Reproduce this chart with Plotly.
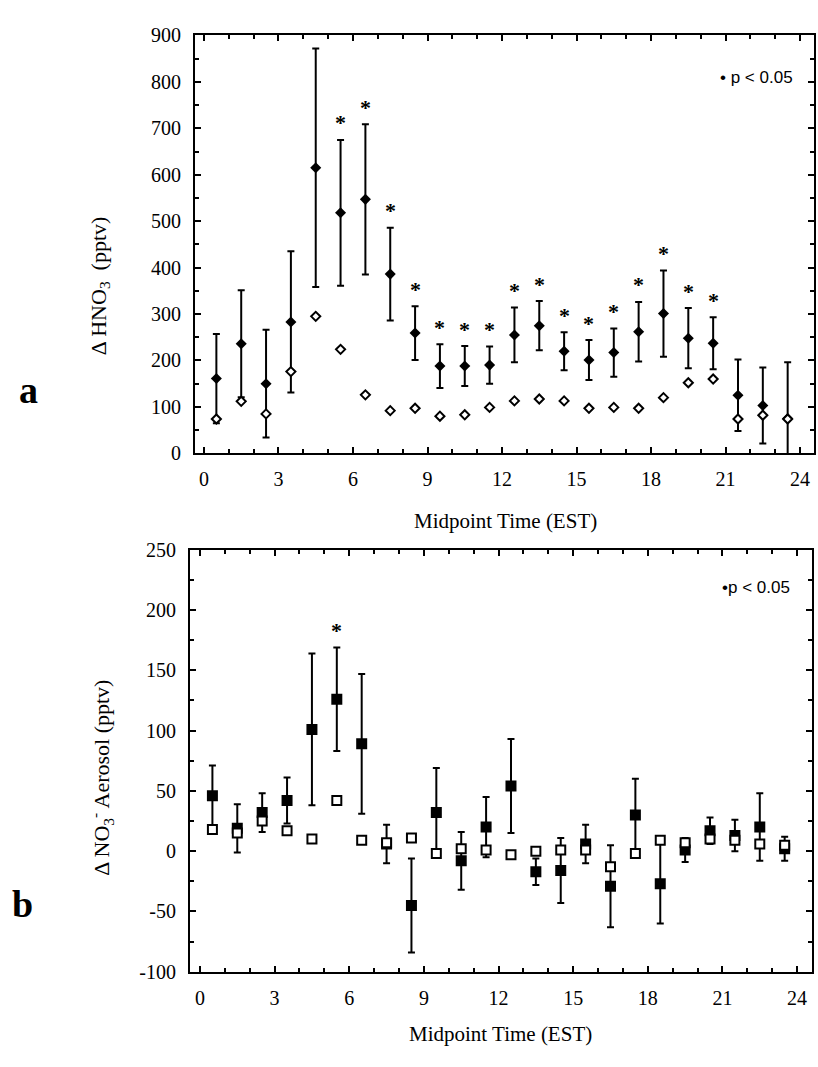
import plotly.graph_objects as go

# Hourly bins (midpoint time, EST)
hours = [h + 0.5 for h in range(24)]
hour_ticks = [0, 3, 6, 9, 12, 15, 18, 21, 24]

# Panel a: delta HNO3 (pptv)
hno3_mean = [161, 236, 150, 283, 615, 518, 547, 386, 259, 188, 188, 190,
             255, 275, 220, 201, 217, 262, 301, 248, 237, 125, 103, 75]
hno3_err = [96, 115, 116, 152, 257, 157, 162, 100, 58, 47, 43, 40,
            59, 53, 41, 43, 52, 64, 93, 65, 56, 77, 82, 121]
hno3_ref = [74, 112, 85, 176, 295, 224, 126, 92, 97, 80, 83, 99,
            113, 117, 113, 97, 99, 97, 120, 152, 160, 74, 82, 74]
hno3_sig = [False] * 5 + [True] * 16 + [False] * 3
hno3_ticks = [0, 100, 200, 300, 400, 500, 600, 700, 800, 900]

# Panel b: delta NO3- aerosol (pptv)
no3_mean = [46, 19, 32, 42, 101, 126, 89, 6, -45, 32, -8, 20,
            54, -17, -16, 6, -29, 30, -27, 1, 17, 13, 20, 2]
no3_err = [25, 20, 16, 19, 63, 43, 58, 16, 39, 37, 24, 25,
           39, 11, 27, 16, 34, 30, 33, 10, 11, 13, 28, 10]
no3_ref = [18, 15, 25, 17, 10, 42, 9, 7, 11, -2, 2, 1,
           -3, 0, 1, 1, -13, -2, 9, 7, 10, 9, 6, 5]
no3_sig = [i == 5 for i in range(24)]
no3_ticks = [-100, -50, 0, 50, 100, 150, 200, 250]

SERIF = "Liberation Serif, Times New Roman, serif"
NARROW = "Liberation Sans Narrow, Liberation Sans, sans-serif"
BLACK = "black"

fig = go.Figure()

# --- panel a ---
fig.add_trace(go.Scatter(
    x=hours, y=hno3_mean, mode="markers", xaxis="x", yaxis="y",
    marker=dict(symbol="diamond", size=8.5, color=BLACK),
    error_y=dict(type="data", array=hno3_err, symmetric=True,
                 color=BLACK, thickness=2, width=3.5),
    showlegend=False,
))
fig.add_trace(go.Scatter(
    x=hours, y=hno3_ref, mode="markers", xaxis="x", yaxis="y",
    marker=dict(symbol="diamond", size=7, color="white",
                line=dict(color=BLACK, width=2)),
    showlegend=False,
))

# --- panel b ---
fig.add_trace(go.Scatter(
    x=hours, y=no3_mean, mode="markers", xaxis="x2", yaxis="y2",
    marker=dict(symbol="square", size=11, color=BLACK),
    error_y=dict(type="data", array=no3_err, symmetric=True,
                 color=BLACK, thickness=2, width=3.5),
    showlegend=False,
))
fig.add_trace(go.Scatter(
    x=hours, y=no3_ref, mode="markers", xaxis="x2", yaxis="y2",
    marker=dict(symbol="square", size=9, color="white",
                line=dict(color=BLACK, width=2)),
    showlegend=False,
))

annotations = []

# significance asterisks above the upper error bar
for xs, m, e, s, xr, yr in ((hours, hno3_mean, hno3_err, hno3_sig, "x", "y"),
                            (hours, no3_mean, no3_err, no3_sig, "x2", "y2")):
    for xv, mv, ev, sv in zip(xs, m, e, s):
        if sv:
            annotations.append(dict(
                x=xv, y=mv + ev, xref=xr, yref=yr, text="<b>*</b>",
                showarrow=False, yshift=17, xanchor="center", yanchor="middle",
                font=dict(family=SERIF, size=22, color=BLACK)))


def label(text, x, y, size, angle=0, family=SERIF, xanchor="center"):
    return dict(text=text, x=x / 818, y=1 - y / 1067, xref="paper", yref="paper",
                xanchor=xanchor, yanchor="middle", textangle=angle,
                showarrow=False, font=dict(family=family, size=size, color=BLACK))


# axis titles, panel letters and significance key (pixel centres)
annotations += [
    label("Midpoint Time (EST)", 505, 521, 21),
    label("Midpoint Time (EST)", 500, 1045, 21),
    label("\u0394 HNO<sub>3</sub>  (pptv)", 100, 281, 22, angle=-90),
    label("\u0394 NO<sub>3</sub><sup>-</sup> Aerosol (pptv)", 102, 783, 22, angle=-90),
    label("<b>a</b>", 29, 387, 38),
    label("<b>b</b>", 22, 912, 38),
    label("\u2022 p &lt; 0.05", 795, 68, 17, family=NARROW, xanchor="right"),
    label("\u2022p &lt; 0.05", 792, 589, 17, family=NARROW, xanchor="right"),
]

tickfont = dict(family=SERIF, size=20, color=BLACK)


def xaxis(domain, rng, anchor):
    return dict(domain=domain, range=rng, anchor=anchor,
                tickmode="array", tickvals=hour_ticks,
                ticktext=[str(v) for v in hour_ticks],
                showline=True, linecolor=BLACK, linewidth=2, mirror="ticks",
                ticks="inside", ticklen=6, tickwidth=1.5, tickcolor=BLACK,
                minor=dict(dtick=1, tick0=0, ticks="inside", ticklen=4, tickwidth=1.5,
                           tickcolor=BLACK, showgrid=False),
                showgrid=False, zeroline=False, tickfont=tickfont,
                ticklabelstandoff=7)


def yaxis(domain, rng, ticks, anchor):
    step = ticks[1] - ticks[0]
    return dict(domain=domain, range=rng, anchor=anchor,
                tickmode="array", tickvals=ticks,
                ticktext=[str(v) for v in ticks],
                showline=True, linecolor=BLACK, linewidth=2, mirror="ticks",
                ticks="inside", ticklen=6, tickwidth=1.5, tickcolor=BLACK,
                minor=dict(dtick=step / 2, tick0=ticks[0], ticks="inside", ticklen=4,
                           tickwidth=1.5, tickcolor=BLACK, showgrid=False),
                showgrid=False, zeroline=False, tickfont=tickfont,
                ticklabelstandoff=8)


fig.update_layout(
    width=818, height=1067,
    margin=dict(l=0, r=0, t=0, b=0),
    paper_bgcolor="white", plot_bgcolor="white",
    xaxis=xaxis([0.2384, 0.9951], [-0.36, 24.56], "y"),
    yaxis=yaxis([0.5767, 0.9766], [0, 900], hno3_ticks, "x"),
    xaxis2=xaxis([0.2323, 0.9927], [-0.40, 24.6], "y2"),
    yaxis2=yaxis([0.0806, 0.4845], [-100, 250], no3_ticks, "x2"),
    annotations=annotations,
)

fig.write_html("out.html")
